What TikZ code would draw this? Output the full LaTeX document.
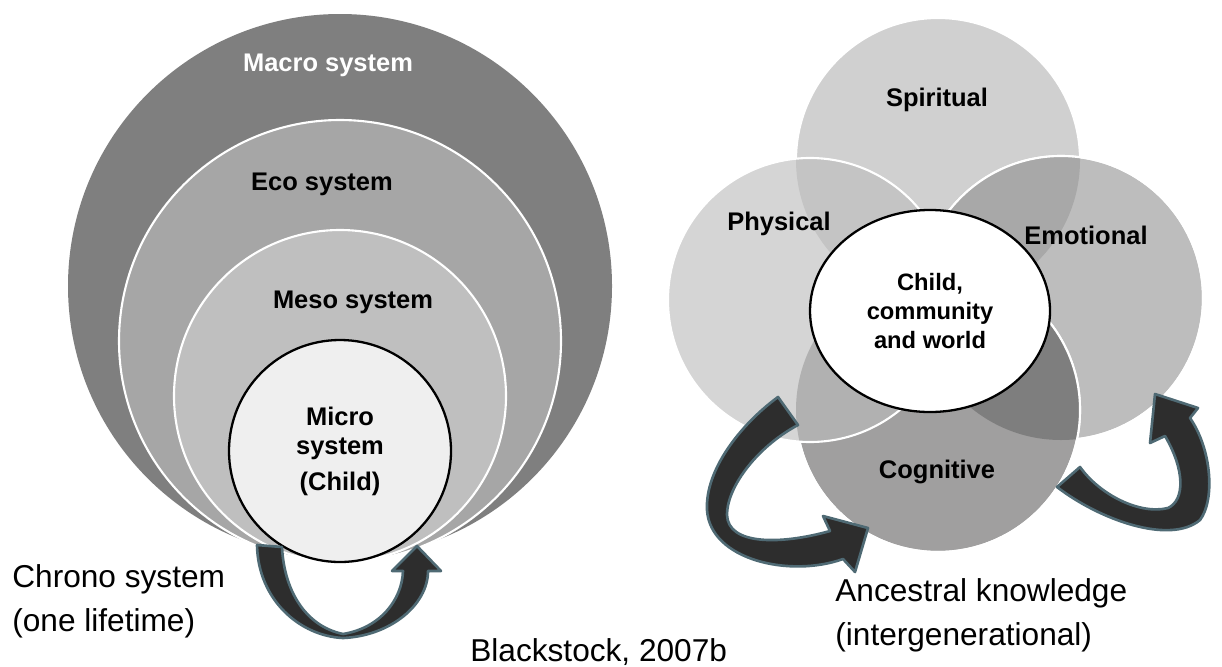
\documentclass[tikz,border=0pt]{standalone}
\usepackage{fontspec}
\setmainfont{Liberation Sans}
\usepackage{tikz}
\usetikzlibrary{positioning}
\definecolor{macrogray}{HTML}{7F7F7F}
\definecolor{ecogray}{HTML}{A6A6A6}
\definecolor{mesogray}{HTML}{BFBFBF}
\definecolor{microgray}{HTML}{EFEFEF}
\definecolor{spfill}{HTML}{D0D0D0}
\definecolor{phfill}{HTML}{D5D5D5}
\definecolor{emfill}{HTML}{BDBDBD}
\definecolor{cgfill}{HTML}{A09F9F}
\definecolor{psfill}{HTML}{C4C4C4}
\definecolor{sefill}{HTML}{A8A8A8}
\definecolor{pcfill}{HTML}{B1B1B1}
\definecolor{ecfill}{HTML}{7E7E7E}
\definecolor{arrowfill}{HTML}{2D2D2D}
\definecolor{arrowedge}{HTML}{4F6A74}

\begin{document}
\begin{tikzpicture}[x=0.02cm,y=-0.02cm,
  lbl/.style={font=\fontsize{14.5}{16.5}\selectfont\bfseries,align=center},
  note/.style={font=\fontsize{18}{25}\selectfont,align=left,anchor=west,inner sep=0pt},
  ring/.style={draw=white,line width=1.2pt},
  bigarrow/.style={fill=arrowfill,draw=arrowedge,line width=1.5pt,line join=round}]
\useasboundingbox (0,0) rectangle (1222,666);

% nested systems, all touching at the bottom
\fill[macrogray] (340,286) circle [radius=272];
\filldraw[fill=ecogray,ring] (340,341) circle [radius=221];
\filldraw[fill=mesogray,ring] (340,396) circle [radius=166];
\filldraw[fill=microgray,draw=black,line width=1.3pt] (340,451) circle [radius=111];
\node[lbl,text=white] (macro) at (328,65) {Macro system};
\node[lbl] (eco) at (322,184) {Eco system};
\node[lbl] (meso) at (353,302) {Meso system};
\node[lbl] (micro) at (340,451) {Micro\\system\\[4pt](Child)};

% chrono loop under the child
\filldraw[bigarrow] (257,545) .. controls (258,600) and (300,636) .. (343,638)
  .. controls (390,636) and (428,605) .. (428,571) -- (441,571) -- (417,546)
  -- (392,571) -- (403,571) .. controls (402,600) and (380,628) .. (343,634)
  .. controls (305,626) and (284,590) .. (282,547) -- cycle;
\node[note] (chrono) at (12,601) {Chrono system\\(one lifetime)};
\node[note] (source) at (470,652) {Blackstock, 2007b};

% four domains around the child
\coordinate (sp) at (938,160);
\coordinate (ph) at (810,300);
\coordinate (em) at (1061,298);
\coordinate (cg) at (938,410);
\filldraw[fill=spfill,ring] (sp) circle [radius=142];
\filldraw[fill=emfill,ring] (em) circle [radius=142];
\begin{scope}
  \clip (sp) circle [radius=142];
  \fill[sefill] (em) circle [radius=142];
\end{scope}
\draw[ring] (em) circle [radius=142];
\filldraw[fill=cgfill,ring] (cg) circle [radius=142];
\begin{scope}
  \clip (em) circle [radius=142];
  \fill[ecfill] (cg) circle [radius=142];
\end{scope}
\draw[ring] (cg) circle [radius=142];
\fill[phfill] (ph) circle [radius=142];
\begin{scope}
  \clip (sp) circle [radius=142];
  \fill[psfill] (ph) circle [radius=142];
\end{scope}
\begin{scope}
  \clip (cg) circle [radius=142];
  \fill[pcfill] (ph) circle [radius=142];
\end{scope}
\draw[ring] (ph) circle [radius=142];
\filldraw[fill=white,draw=black,line width=1.3pt] (930,311) ellipse [x radius=120,y radius=101];

\node[lbl] (spiritual) at (937,100) {Spiritual};
\node[lbl] (physical) at (779,224) {Physical};
\node[lbl] (emotional) at (1086,235) {Emotional};
\node[lbl] (cognitive) at (937,472) {Cognitive};
\node[lbl,font=\fontsize{13.5}{16.5}\selectfont\bfseries] (child) at (930,311) {Child,\\community\\and world};

% ancestral loops
\filldraw[bigarrow] (778,397) .. controls (740,425) and (705,470) .. (707,510)
  .. controls (710,560) and (790,578) .. (843,559) -- (855,572) -- (868,528)
  -- (823,516) -- (830,531) .. controls (780,545) and (728,545) .. (727,515)
  .. controls (727,485) and (760,445) .. (798,425) -- cycle;
\filldraw[bigarrow] (1057,487) .. controls (1100,520) and (1170,545) .. (1200,520)
  .. controls (1215,500) and (1212,450) .. (1190,418) -- (1198,408) -- (1155,394)
  -- (1150,443) -- (1165,436) .. controls (1185,470) and (1185,500) .. (1168,508)
  .. controls (1140,515) and (1100,495) .. (1080,467) -- cycle;
\node[note] (ancestral) at (835,615) {Ancestral knowledge\\(intergenerational)};
\end{tikzpicture}
\end{document}
